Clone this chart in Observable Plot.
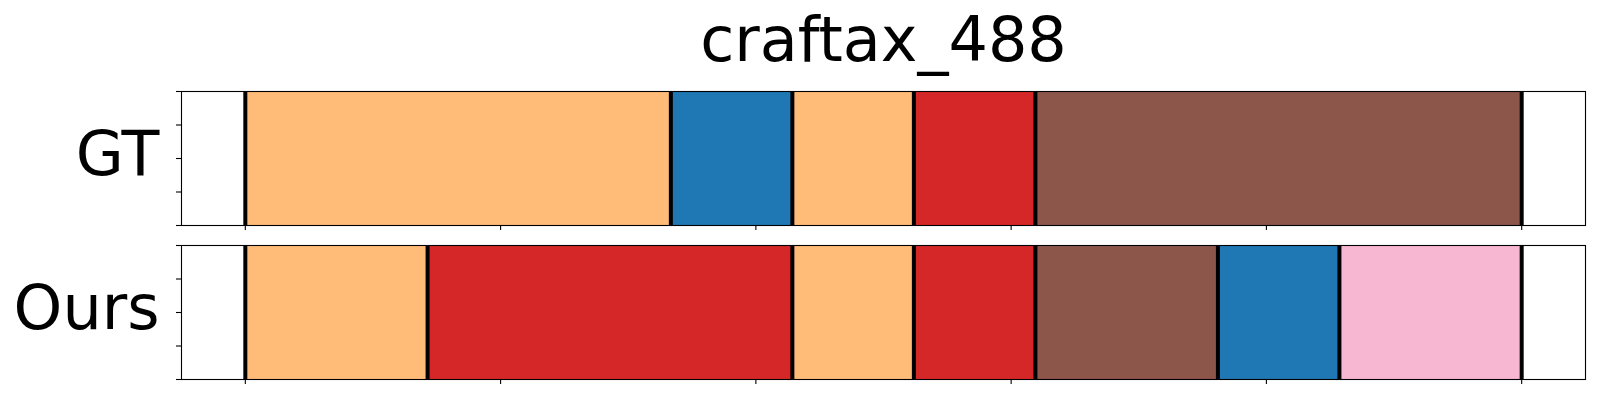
<!DOCTYPE html>
<html>
<head>
<meta charset="utf-8">
<script src="https://cdn.jsdelivr.net/npm/d3@7"></script>
<script src="https://cdn.jsdelivr.net/npm/@observablehq/plot@0.6"></script>
<style>
  body { margin: 0; background: #fff; font-family: "DejaVu Sans", sans-serif; }
  #wrap { width: 1600px; height: 400px; position: relative; overflow: hidden; }
  #title { position: relative; width: 1600px; height: 90px; }
  #title span { position: absolute; left: 883.5px; top: 9px; transform: translateX(-50%);
    font-size: 62px; line-height: 62px; color: #000; white-space: nowrap; }
</style>
</head>
<body>
<div id="wrap">
  <div id="title"><span>craftax_488</span></div>
  <div id="chart"></div>
</div>
<script>
// Panels
const panels = ["GT", "Ours"];
// Segment boundaries (time steps) and segment classes (tab20 index)
const gtBounds = [0, 166.7, 214.3, 261.9, 309.5, 500];
const gtClasses = ["3", "0", "3", "6", "10"];
const oursBounds = [0, 71.4, 214.3, 261.9, 309.5, 381.0, 428.6, 500];
const oursClasses = ["3", "6", "3", "6", "10", "0", "13"];
// Class colors (tab20)
const classIds = ["0", "3", "6", "10", "13"];
const classColors = ["#1f77b4", "#ffbb78", "#d62728", "#8c564b", "#f7b6d2"];
// Axis ticks (unlabeled)
const xTicks = [0, 100, 200, 300, 400, 500];
const yTicks = [0, 0.25, 0.5, 0.75, 1];

function segs(panel, bounds, classes) {
  return classes.map((c, i) => ({panel, x1: bounds[i], x2: bounds[i + 1], cls: c}));
}
function rules(panel, bounds) {
  return bounds.map(x => ({panel, x}));
}
const segRows = [...segs("GT", gtBounds, gtClasses), ...segs("Ours", oursBounds, oursClasses)];
const ruleRows = [...rules("GT", gtBounds), ...rules("Ours", oursBounds)];

const chart = Plot.plot({
  width: 1600,
  height: 310,
  marginTop: 0,
  marginBottom: 20,
  marginLeft: 181,
  marginRight: 15,
  style: {fontFamily: "DejaVu Sans", background: "#fff"},
  x: {domain: [-25, 525]},
  y: {domain: [0, 1]},
  fy: {domain: panels, paddingInner: 0.129, paddingOuter: 0, axis: null},
  color: {type: "ordinal", domain: classIds, range: classColors},
  marks: [
    Plot.rect(segRows, {x1: "x1", x2: "x2", y1: 0, y2: 1, fill: "cls", fy: "panel"}),
    Plot.ruleX(ruleRows, {x: "x", fy: "panel", stroke: "black", strokeWidth: 4}),
    Plot.frame({stroke: "black", strokeWidth: 1.1}),
    Plot.axisX({ticks: xTicks, tickSize: 5, tickFormat: () => "", facetAnchor: null, strokeWidth: 1.1}),
    Plot.axisY({ticks: yTicks, tickSize: 5, tickFormat: () => "", facetAnchor: null, strokeWidth: 1.1}),
    Plot.text(panels, {fy: d => d, text: d => d, frameAnchor: "left", textAnchor: "end",
      dx: -22, dy: -3, fontSize: 62, lineAnchor: "middle", fill: "black"})
  ]
});
document.getElementById("chart").appendChild(chart);
</script>
</body>
</html>
